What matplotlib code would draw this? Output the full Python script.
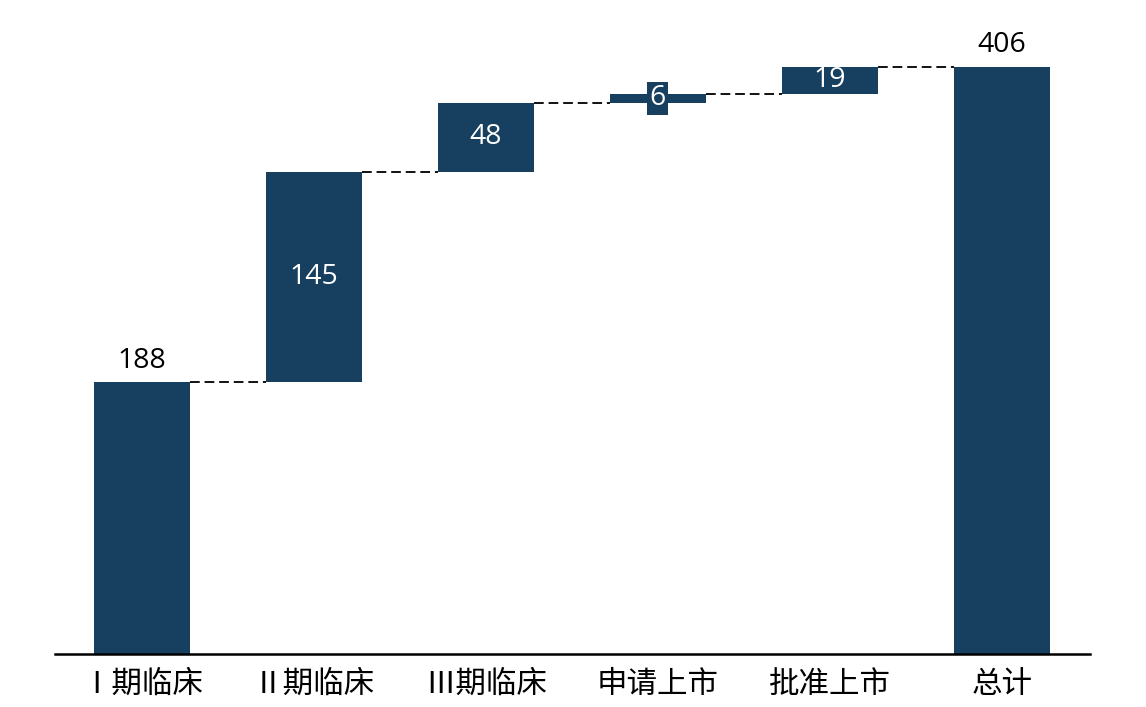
import matplotlib.pyplot as plt
import numpy as np

plt.rcParams['font.family'] = ['Noto Sans CJK SC', 'DejaVu Sans']

# data
stages = ['Ⅰ期临床', 'Ⅱ期临床', 'Ⅲ期临床', '申请上市', '批准上市', '总计']
values = [188, 145, 48, 6, 19, 406]

color = '#163f60'
width = 0.56

steps = np.array(values[:-1])
bottoms = np.concatenate([[0], np.cumsum(steps)[:-1], [0]])
heights = np.array(values)
x = np.arange(len(values))

fig = plt.figure(figsize=(11.46, 7.07), dpi=100)
ax = fig.add_axes([0.048, 0.075, 0.903, 0.925])

ax.bar(x, heights, width, bottom=bottoms, color=color)

# dashed connectors
tops = bottoms + heights
for i in range(len(values) - 1):
    ax.plot([x[i] + width / 2, x[i + 1] - width / 2], [tops[i], tops[i]],
            ls=(0, (5, 2.5)), color='#111111', lw=1.4)

# labels
for i, v in enumerate(values):
    if i == 0 or i == len(values) - 1:
        ax.text(x[i], tops[i] + 5, str(v), ha='center', va='bottom',
                fontsize=20.5, color='black', family='Open Sans')
    elif v < 10:
        ax.text(x[i], bottoms[i] + v / 2, str(v), ha='center', va='center',
                fontsize=20.5, color='white', family='Open Sans',
                bbox=dict(boxstyle='square,pad=0.08', fc=color, ec='none'))
    else:
        ax.text(x[i], bottoms[i] + v / 2, str(v), ha='center', va='center',
                fontsize=20.5, color='white', family='Open Sans')

ax.set_xlim(-0.506, 5.512)
ax.set_ylim(0, 452)
ax.set_xticks(x)
ax.set_xticklabels(stages, fontsize=22)
ax.tick_params(axis='x', length=0, pad=11)
ax.set_yticks([])
for s in ['top', 'right', 'left']:
    ax.spines[s].set_visible(False)
ax.spines['bottom'].set_linewidth(1.8)

fig.savefig('out.png', dpi=100)
